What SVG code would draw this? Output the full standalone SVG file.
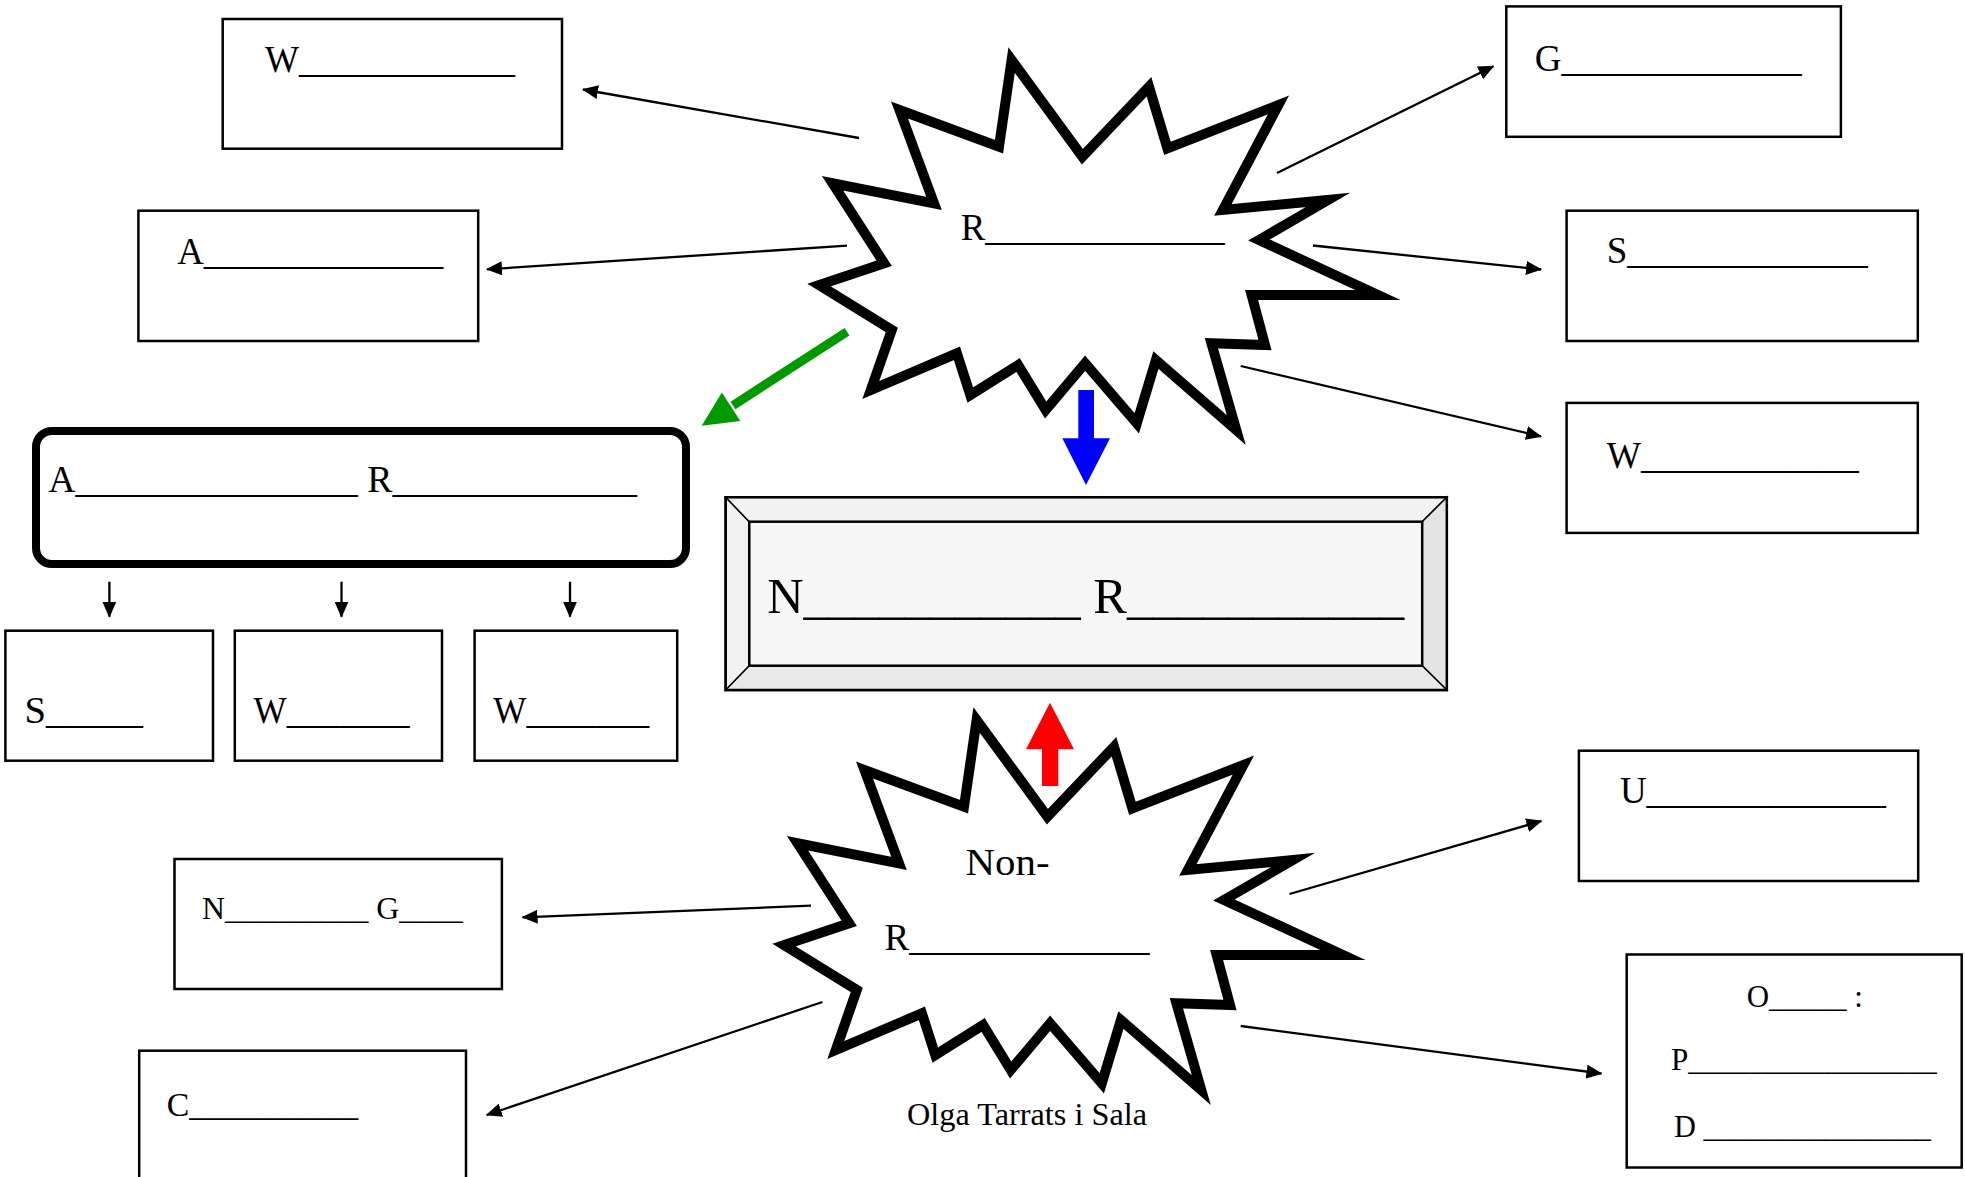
<svg xmlns="http://www.w3.org/2000/svg" width="1965" height="1177" viewBox="0 0 1965 1177">
<defs>
<style>
.box{fill:#ffffff;stroke:#000000;stroke-width:2.5}
.t{font-family:"Liberation Serif","Times New Roman",serif;fill:#000000}
.f37{font-size:37px}
.f38{font-size:38px}
.f32{font-size:32px}
.f31{font-size:31px}
.f34{font-size:34px}
.f50{font-size:50px}
.burst{fill:#ffffff;stroke:#000000;stroke-width:10;stroke-linejoin:miter;stroke-miterlimit:12}
.conn{stroke:#000000;stroke-width:2.3;fill:none;marker-end:url(#ah)}
</style>
<marker id="ah" markerUnits="userSpaceOnUse" markerWidth="16" markerHeight="14" refX="15" refY="7" orient="auto" viewBox="0 0 16 14">
<path d="M0,0 L16,7 L0,14 Z" fill="#000000"/>
</marker>
<path id="burstShape" d="M1011.6,60 L1082.4,156.7 L1149,86.7 L1167.4,148.3 L1278.4,105 L1222.9,210 L1328,200 L1259,240 L1377.9,295 L1251.6,295 L1265,345 L1211.4,343.3 L1236.3,430 L1155.9,360 L1136.8,423.3 L1085.1,363.3 L1045.7,410 L1018.1,365 L970.3,395 L956.9,353.3 L870.8,390 L891.8,330 L819.1,285 L884.2,263.3 L832.5,183.3 L934,203.3 L899.5,110 L999,146.7 Z"/>
</defs>
<rect x="0" y="0" width="1965" height="1177" fill="#ffffff"/>

<g id="connectors">
<line class="conn" x1="859" y1="138" x2="583" y2="89.5"/>
<line class="conn" x1="847" y1="245.7" x2="487" y2="269.3"/>
<line class="conn" x1="1277" y1="173" x2="1493.5" y2="66.2"/>
<line class="conn" x1="1313" y1="245.5" x2="1541" y2="269.5"/>
<line class="conn" x1="1240.7" y1="366" x2="1541" y2="436.4"/>
<line class="conn" x1="811" y1="905.7" x2="522.6" y2="917.3"/>
<line class="conn" x1="822.4" y1="1002" x2="486.7" y2="1115"/>
<line class="conn" x1="1289.5" y1="894" x2="1541.4" y2="821"/>
<line class="conn" x1="1240.7" y1="1026" x2="1601.5" y2="1073.5"/>
<line class="conn" x1="109.4" y1="581.7" x2="109.4" y2="616.7"/>
<line class="conn" x1="341.5" y1="581.7" x2="341.5" y2="616.7"/>
<line class="conn" x1="570" y1="581.7" x2="570" y2="616.7"/>
<line x1="847" y1="331.7" x2="733" y2="405.5" stroke="#009900" stroke-width="9"/>
<polygon points="701.7,425.7 740.3,421 721.9,392.4" fill="#009900"/>
<path d="M1078.3,390 H1094 V438.3 H1110 L1086,485 L1062.3,438.3 H1078.3 Z" fill="#0000ff"/>
<path d="M1042,786 V749.3 H1026 L1050,702.7 L1074,749.3 H1058.3 V786 Z" fill="#ff0000"/>
</g>

<g id="burst-top">
<use href="#burstShape" class="burst"/>
<text class="t f37" x="960.7" y="240" textLength="264" lengthAdjust="spacingAndGlyphs">R_____________</text>
</g>

<g id="burst-bottom">
<use href="#burstShape" class="burst" transform="translate(-35,660)"/>
<text class="t f38" x="965.6" y="875" textLength="84" lengthAdjust="spacingAndGlyphs">Non-</text>
<text class="t f37" x="884.6" y="950" textLength="265" lengthAdjust="spacingAndGlyphs">R_____________</text>
</g>

<text id="author" class="t f32" x="907" y="1125" textLength="240" lengthAdjust="spacingAndGlyphs">Olga Tarrats i Sala</text>

<g id="box-w1">
<rect class="box" x="222.7" y="19" width="339.3" height="129.7"/>
<text class="t f37" x="265" y="71.7" textLength="250" lengthAdjust="spacingAndGlyphs">W____________</text>
</g>

<g id="box-a1">
<rect class="box" x="138.4" y="210.7" width="339.8" height="130.3"/>
<text class="t f37" x="177.2" y="264" textLength="266" lengthAdjust="spacingAndGlyphs">A_____________</text>
</g>

<g id="box-g">
<rect class="box" x="1506.3" y="6.4" width="334.6" height="130.4"/>
<text class="t f37" x="1534.7" y="71.4" textLength="267" lengthAdjust="spacingAndGlyphs">G_____________</text>
</g>

<g id="box-s1">
<rect class="box" x="1566.6" y="210.7" width="351.2" height="130.3"/>
<text class="t f37" x="1606.8" y="263.2" textLength="261" lengthAdjust="spacingAndGlyphs">S_____________</text>
</g>

<g id="box-w2">
<rect class="box" x="1566.6" y="402.9" width="351.2" height="130"/>
<text class="t f37" x="1606.8" y="467.9" textLength="252" lengthAdjust="spacingAndGlyphs">W____________</text>
</g>

<g id="box-ar">
<rect x="36" y="431" width="650" height="133" rx="16" ry="16" fill="#ffffff" stroke="#000000" stroke-width="8"/>
<text class="t f38" x="48.2" y="491.7" textLength="589" lengthAdjust="spacingAndGlyphs">A_______________ R_____________</text>
</g>

<g id="box-s2">
<rect class="box" x="5.4" y="630.7" width="207.6" height="130"/>
<text class="t f37" x="24.6" y="723.3" textLength="118.3" lengthAdjust="spacingAndGlyphs">S_____</text>
</g>

<g id="box-w3">
<rect class="box" x="234.8" y="630.7" width="207.2" height="130"/>
<text class="t f37" x="253.6" y="723.3" textLength="156" lengthAdjust="spacingAndGlyphs">W_______</text>
</g>

<g id="box-w4">
<rect class="box" x="474.6" y="630.7" width="202.6" height="130"/>
<text class="t f37" x="493.3" y="723.3" textLength="156" lengthAdjust="spacingAndGlyphs">W_______</text>
</g>

<g id="box-nr">
<rect x="725.7" y="497.3" width="721.1" height="192.7" fill="#f2f2f2" stroke="#000000" stroke-width="2.5"/>
<polygon points="725.7,497.3 749.3,521.7 749.3,665.7 725.7,690" fill="#f1f1f1" stroke="#000000" stroke-width="1.5"/>
<polygon points="725.7,497.3 1446.8,497.3 1422.2,521.7 749.3,521.7" fill="#f2f2f2" stroke="#000000" stroke-width="1.5"/>
<polygon points="1446.8,497.3 1446.8,690 1422.2,665.7 1422.2,521.7" fill="#e4e4e4" stroke="#000000" stroke-width="1.5"/>
<polygon points="725.7,690 749.3,665.7 1422.2,665.7 1446.8,690" fill="#e9e9e9" stroke="#000000" stroke-width="1.5"/>
<rect x="749.3" y="521.7" width="672.9" height="144" fill="#f7f7f7" stroke="#000000" stroke-width="2.5"/>
<rect x="725.7" y="497.3" width="721.1" height="192.7" fill="none" stroke="#000000" stroke-width="2.5"/>
<text class="t f50" x="767.2" y="613.3" textLength="637" lengthAdjust="spacingAndGlyphs">N___________ R___________</text>
</g>

<g id="box-u">
<rect class="box" x="1578.9" y="750.7" width="339.3" height="130.3"/>
<text class="t f37" x="1620" y="803.3" textLength="266" lengthAdjust="spacingAndGlyphs">U_____________</text>
</g>

<g id="box-ng">
<rect class="box" x="174.5" y="859" width="327.4" height="130"/>
<text class="t f32" x="202.1" y="919" textLength="260.8" lengthAdjust="spacingAndGlyphs">N_________ G____</text>
</g>

<g id="box-c">
<rect class="box" x="139.2" y="1050.7" width="326.8" height="150"/>
<text class="t f34" x="166.7" y="1116" textLength="191.5" lengthAdjust="spacingAndGlyphs">C__________</text>
</g>

<g id="box-opd">
<rect class="box" x="1626.7" y="954.5" width="335" height="213"/>
<text class="t f31" x="1746.7" y="1006.7">O_____ :</text>
<text class="t f31" x="1671" y="1070" textLength="265.7" lengthAdjust="spacingAndGlyphs">P________________</text>
<text class="t f31" x="1674" y="1136.7" textLength="257" lengthAdjust="spacingAndGlyphs">D _______________</text>
</g>
</svg>
